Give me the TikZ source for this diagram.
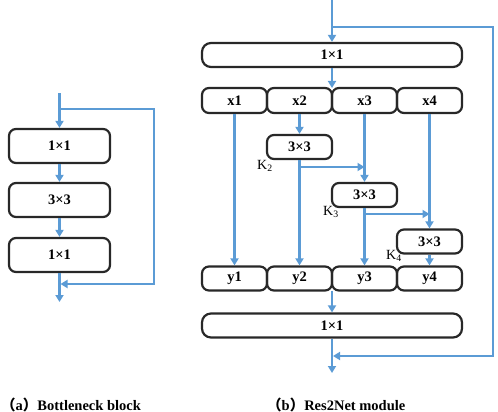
\documentclass[tikz,border=0pt]{standalone}
\usepackage{fontspec}
\setmainfont{Liberation Serif}
\newfontfamily\cjk{Noto Sans CJK SC}
\usetikzlibrary{arrows.meta}
\definecolor{flow}{RGB}{91,155,213}
\definecolor{edge}{RGB}{40,40,40}
\tikzset{
  blk/.style={draw=edge, line width=2.2pt, rounded corners=7pt, inner sep=0pt,
    font=\bfseries\fontsize{14.5}{14.5}\selectfont},
  flowline/.style={draw=flow, line width=2.2pt},
  flowarr/.style={flowline, -{Triangle[length=7pt,width=8pt]}},
  klab/.style={font=\fontsize{14}{14}\selectfont, inner sep=0pt},
  captext/.style={font=\bfseries\fontsize{14.5}{14.5}\selectfont, inner sep=0pt, anchor=west}
}
\begin{document}
\begin{tikzpicture}[x=1pt,y=-1pt]
\useasboundingbox (0,0) rectangle (498,412);
% ---------------- (a) bottleneck ----------------
\node[blk, minimum width=101pt, minimum height=34pt] (a1) at (59.5,146) {1×1};
\node[blk, minimum width=101pt, minimum height=34pt] (a2) at (59.5,200) {3×3};
\node[blk, minimum width=101pt, minimum height=34pt] (a3) at (59.5,255) {1×1};
\coordinate (ain) at (59.5,93);
\coordinate (abr) at (59.5,109);
\coordinate (ar1) at (154,109);
\coordinate (ar2) at (154,284);
\coordinate (amg) at (59.5,284);
\coordinate (aout) at (59.5,302);
\draw[flowarr] (ain) -- (a1.north);
\draw[flowarr] (a1) -- (a2);
\draw[flowarr] (a2) -- (a3);
\draw[flowarr] (a3.south) -- (aout);
\draw[flowarr] (abr) -- (ar1) -- (ar2) -- ([xshift=1pt]amg);
% ---------------- (b) Res2Net ----------------
\node[blk, minimum width=260pt, minimum height=24pt, rounded corners=9pt] (top) at (332,55) {1×1};
\node[blk, minimum width=65pt, minimum height=25pt] (x1) at (234.5,100.5) {x1};
\node[blk, minimum width=65pt, minimum height=25pt] (x2) at (299.5,100.5) {x2};
\node[blk, minimum width=65pt, minimum height=25pt] (x3) at (364.5,100.5) {x3};
\node[blk, minimum width=65pt, minimum height=25pt] (x4) at (429.5,100.5) {x4};
\node[blk, minimum width=65pt, minimum height=24pt] (k2) at (299.5,147) {3×3};
\node[blk, minimum width=65pt, minimum height=24pt] (k3) at (364.5,195) {3×3};
\node[blk, minimum width=65pt, minimum height=24pt] (k4) at (429.5,241.5) {3×3};
\node[blk, minimum width=65pt, minimum height=24pt] (y1) at (234.5,278.5) {y1};
\node[blk, minimum width=65pt, minimum height=24pt] (y2) at (299.5,278.5) {y2};
\node[blk, minimum width=65pt, minimum height=24pt] (y3) at (364.5,278.5) {y3};
\node[blk, minimum width=65pt, minimum height=24pt] (y4) at (429.5,278.5) {y4};
\node[blk, minimum width=260pt, minimum height=24pt, rounded corners=9pt] (bot) at (332,325.5) {1×1};
\node[klab] (lk2) at (265,166) {K\textsubscript{2}};
\node[klab] (lk3) at (331,212) {K\textsubscript{3}};
\node[klab] (lk4) at (394,256) {K\textsubscript{4}};
\coordinate (bin) at (332,0);
\coordinate (bbr) at (332,27);
\coordinate (br1) at (493,27);
\coordinate (br2) at (493,356);
\coordinate (bmg) at (332,356);
\coordinate (bout) at (332,373);
\coordinate (xtop) at (332,88);
\coordinate (ybot) at (332,290.5);
\coordinate (h2) at (299.5,167);
\coordinate (h2e) at (364.5,167);
\coordinate (h3) at (364.5,214);
\coordinate (h3e) at (429.5,214);
\draw[flowarr] (bin) -- (top.north);
\draw[flowarr] (top.south) -- (xtop);
\draw[flowarr] (x1.south) -- (y1.north);
\draw[flowarr] (x2.south) -- (k2.north);
\draw[flowarr] (k2.south) -- (y2.north);
\draw[flowarr] (x3.south) -- (k3.north);
\draw[flowarr] (k3.south) -- (y3.north);
\draw[flowarr] (x4.south) -- (k4.north);
\draw[flowarr] (k4.south) -- (y4.north);
\draw[flowarr] (h2) -- (h2e);
\draw[flowarr] (h3) -- (h3e);
\draw[flowarr] (ybot) -- (bot.north);
\draw[flowarr] (bot.south) -- (bout);
\draw[flowarr] (bbr) -- (br1) -- (br2) -- ([xshift=1pt]bmg);
% ---------------- captions ----------------
\node[captext] (ca) at (1,404.5) {{\cjk （}a{\cjk ）}Bottleneck block};
\node[captext] (cb) at (267,404.5) {{\cjk （}b{\cjk ）}Res2Net module};
\end{tikzpicture}
\end{document}
